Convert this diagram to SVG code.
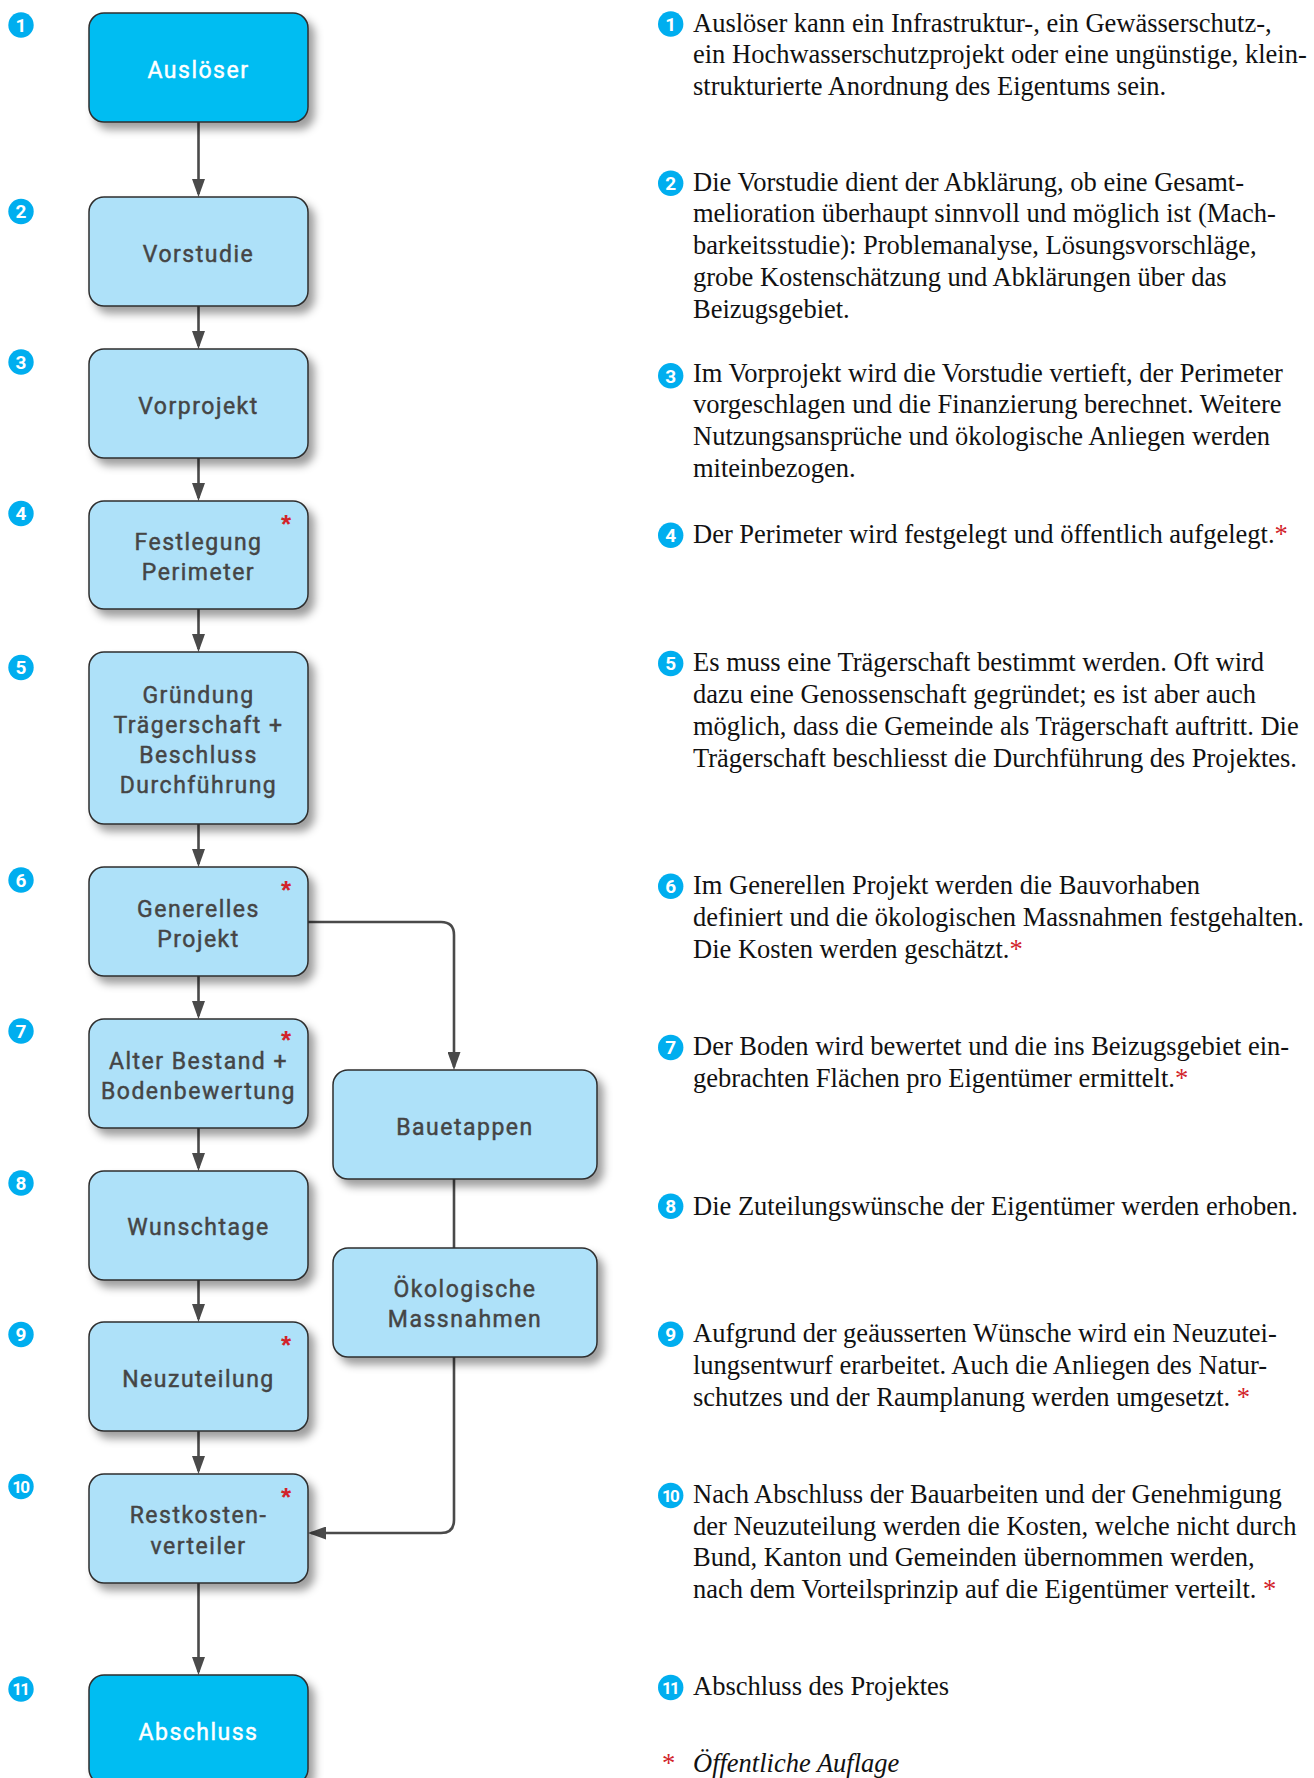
<svg xmlns="http://www.w3.org/2000/svg" width="1314" height="1778" viewBox="0 0 1314 1778">
<defs>
<filter id="sh" x="-20%" y="-20%" width="150%" height="160%">
<feDropShadow dx="6" dy="7" stdDeviation="4.5" flood-color="#000" flood-opacity="0.38"/>
</filter>
<marker id="arr" viewBox="0 0 18 13" refX="15" refY="6.5" markerWidth="18" markerHeight="13" markerUnits="userSpaceOnUse" orient="auto">
<path d="M0,0 L18,6.5 L0,13 Z" fill="#4a4a4a"/>
</marker>
</defs>
<style>
.box{fill:#aee1f9;stroke:#2e2e2e;stroke-width:1.5;filter:url(#sh)}
.dark{fill:#00bdf2}
.lbl{font-family:Roboto,"DejaVu Sans",sans-serif;font-weight:400;font-size:23px;letter-spacing:1.5px;fill:#454545;stroke:#454545;stroke-width:0.45px;text-anchor:middle}
.wl{fill:#ffffff;stroke:#ffffff}
.ast{font-family:"Liberation Sans",Arial,sans-serif;font-weight:bold;font-size:26px;fill:#d2232a;text-anchor:middle}
.num circle{fill:#00aeef}
.num text{font-family:Roboto,"DejaVu Sans",sans-serif;font-weight:bold;font-size:19px;fill:#fff;text-anchor:middle}
.num .dd{font-size:17px;letter-spacing:-1.8px}
.con{fill:none;stroke:#4a4a4a;stroke-width:2.6}
.txt{font-family:"Liberation Serif","Times New Roman",serif;font-size:26.5px;fill:#111111}
.red{fill:#d2232a}
</style>
<rect width="1314" height="1778" fill="#ffffff"/>

<g id="connectors">
<path class="con" d="M198.5,122 V194" marker-end="url(#arr)"/>
<path class="con" d="M198.5,306 V346" marker-end="url(#arr)"/>
<path class="con" d="M198.5,458 V498" marker-end="url(#arr)"/>
<path class="con" d="M198.5,609 V649" marker-end="url(#arr)"/>
<path class="con" d="M198.5,824 V864" marker-end="url(#arr)"/>
<path class="con" d="M198.5,976 V1016" marker-end="url(#arr)"/>
<path class="con" d="M198.5,1128 V1168" marker-end="url(#arr)"/>
<path class="con" d="M198.5,1280 V1319" marker-end="url(#arr)"/>
<path class="con" d="M198.5,1431 V1471" marker-end="url(#arr)"/>
<path class="con" d="M198.5,1583 V1672" marker-end="url(#arr)"/>
<path class="con" d="M308,922 H441 Q454,922 454,935 V1067" marker-end="url(#arr)"/>
<path class="con" d="M454,1179 V1248"/>
<path class="con" d="M454,1357 V1520 Q454,1533 441,1533 H311" marker-end="url(#arr)"/>
</g>

<g id="n1">
<rect class="box dark" x="89" y="13" width="219" height="109" rx="15"/>
<text class="lbl wl" x="198.5" y="78">Auslöser</text>
</g>
<g id="n2">
<rect class="box" x="89" y="197" width="219" height="109" rx="15"/>
<text class="lbl" x="198.5" y="261.5">Vorstudie</text>
</g>
<g id="n3">
<rect class="box" x="89" y="349" width="219" height="109" rx="15"/>
<text class="lbl" x="198.5" y="413.5">Vorprojekt</text>
</g>
<g id="n4">
<rect class="box" x="89" y="501" width="219" height="108" rx="15"/>
<text class="lbl" x="198.5" y="550">Festlegung</text>
<text class="lbl" x="198.5" y="579.5">Perimeter</text>
<text class="ast" x="286" y="533">*</text>
</g>
<g id="n5">
<rect class="box" x="89" y="652" width="219" height="172" rx="15"/>
<text class="lbl" x="198.5" y="703">Gründung</text>
<text class="lbl" x="198.5" y="733">Trägerschaft +</text>
<text class="lbl" x="198.5" y="763">Beschluss</text>
<text class="lbl" x="198.5" y="793">Durchführung</text>
</g>
<g id="n6">
<rect class="box" x="89" y="867" width="219" height="109" rx="15"/>
<text class="lbl" x="198.5" y="916.5">Generelles</text>
<text class="lbl" x="198.5" y="946.5">Projekt</text>
<text class="ast" x="286" y="899">*</text>
</g>
<g id="n7">
<rect class="box" x="89" y="1019" width="219" height="109" rx="15"/>
<text class="lbl" x="198.5" y="1068.5">Alter Bestand +</text>
<text class="lbl" x="198.5" y="1098.5">Bodenbewertung</text>
<text class="ast" x="286" y="1049">*</text>
</g>
<g id="n8">
<rect class="box" x="89" y="1171" width="219" height="109" rx="15"/>
<text class="lbl" x="198.5" y="1235">Wunschtage</text>
</g>
<g id="n9">
<rect class="box" x="89" y="1322" width="219" height="109" rx="15"/>
<text class="lbl" x="198.5" y="1387">Neuzuteilung</text>
<text class="ast" x="286" y="1354">*</text>
</g>
<g id="n10">
<rect class="box" x="89" y="1474" width="219" height="109" rx="15"/>
<text class="lbl" x="198.5" y="1523">Restkosten-</text>
<text class="lbl" x="198.5" y="1553.5">verteiler</text>
<text class="ast" x="286" y="1506">*</text>
</g>
<g id="n11">
<rect class="box dark" x="89" y="1675" width="219" height="109" rx="15"/>
<text class="lbl wl" x="198.5" y="1740">Abschluss</text>
</g>
<g id="n12">
<rect class="box" x="333" y="1070" width="264" height="109" rx="15"/>
<text class="lbl" x="465" y="1134.5">Bauetappen</text>
</g>
<g id="n13">
<rect class="box" x="333" y="1248" width="264" height="109" rx="15"/>
<text class="lbl" x="465" y="1297">Ökologische</text>
<text class="lbl" x="465" y="1327">Massnahmen</text>
</g>

<g id="numbers-left" class="num">
<circle cx="21" cy="25" r="12.7"/><text x="21" y="31.8">1</text>
<circle cx="21" cy="211.5" r="12.7"/><text x="21" y="218.3">2</text>
<circle cx="21" cy="362" r="12.7"/><text x="21" y="368.8">3</text>
<circle cx="21" cy="513.5" r="12.7"/><text x="21" y="520.3">4</text>
<circle cx="21" cy="667.5" r="12.7"/><text x="21" y="674.3">5</text>
<circle cx="21" cy="880" r="12.7"/><text x="21" y="886.8">6</text>
<circle cx="21" cy="1031" r="12.7"/><text x="21" y="1037.8">7</text>
<circle cx="21" cy="1183" r="12.7"/><text x="21" y="1189.8">8</text>
<circle cx="21" cy="1334.5" r="12.7"/><text x="21" y="1341.3">9</text>
<circle cx="21" cy="1486.5" r="12.7"/><text class="dd" x="20.3" y="1492.6">10</text>
<circle cx="21" cy="1689" r="12.7"/><text class="dd" x="20.3" y="1695.1">11</text>
</g>

<g id="numbers-right" class="num">
<circle cx="670.7" cy="24" r="12.7"/><text x="670.7" y="30.8">1</text>
<circle cx="670.7" cy="183.3" r="12.7"/><text x="670.7" y="190.1">2</text>
<circle cx="670.7" cy="375.7" r="12.7"/><text x="670.7" y="382.5">3</text>
<circle cx="670.7" cy="535.3" r="12.7"/><text x="670.7" y="542.1">4</text>
<circle cx="670.7" cy="663.5" r="12.7"/><text x="670.7" y="670.3">5</text>
<circle cx="670.7" cy="886.3" r="12.7"/><text x="670.7" y="893.1">6</text>
<circle cx="670.7" cy="1047.5" r="12.7"/><text x="670.7" y="1054.3">7</text>
<circle cx="670.7" cy="1206.3" r="12.7"/><text x="670.7" y="1213.1">8</text>
<circle cx="670.7" cy="1334.3" r="12.7"/><text x="670.7" y="1341.1">9</text>
<circle cx="670.7" cy="1495.5" r="12.7"/><text class="dd" x="670" y="1501.6">10</text>
<circle cx="670.7" cy="1687.5" r="12.7"/><text class="dd" x="670" y="1693.6">11</text>
</g>

<g id="descriptions" class="txt">
<text x="693" y="31.7">Auslöser kann ein Infrastruktur-, ein Gewässerschutz-,</text>
<text x="693" y="63.3">ein Hochwasserschutzprojekt oder eine ungünstige, klein-</text>
<text x="693" y="95">strukturierte Anordnung des Eigentums sein.</text>

<text x="693" y="190.7">Die Vorstudie dient der Abklärung, ob eine Gesamt-</text>
<text x="693" y="222.3">melioration überhaupt sinnvoll und möglich ist (Mach-</text>
<text x="693" y="254">barkeitsstudie): Problemanalyse, Lösungsvorschläge,</text>
<text x="693" y="285.7">grobe Kostenschätzung und Abklärungen über das</text>
<text x="693" y="317.5">Beizugsgebiet.</text>

<text x="693" y="381.7">Im Vorprojekt wird die Vorstudie vertieft, der Perimeter</text>
<text x="693" y="413.3">vorgeschlagen und die Finanzierung berechnet. Weitere</text>
<text x="693" y="445">Nutzungsansprüche und ökologische Anliegen werden</text>
<text x="693" y="476.7">miteinbezogen.</text>

<text x="693" y="542.7">Der Perimeter wird festgelegt und öffentlich aufgelegt.<tspan class="red">*</tspan></text>

<text x="693" y="671">Es muss eine Trägerschaft bestimmt werden. Oft wird</text>
<text x="693" y="702.8">dazu eine Genossenschaft gegründet; es ist aber auch</text>
<text x="693" y="734.7">möglich, dass die Gemeinde als Trägerschaft auftritt. Die</text>
<text x="693" y="766.5">Trägerschaft beschliesst die Durchführung des Projektes.</text>

<text x="693" y="894.3">Im Generellen Projekt werden die Bauvorhaben</text>
<text x="693" y="926">definiert und die ökologischen Massnahmen festgehalten.</text>
<text x="693" y="958">Die Kosten werden geschätzt.<tspan class="red">*</tspan></text>

<text x="693" y="1055">Der Boden wird bewertet und die ins Beizugsgebiet ein-</text>
<text x="693" y="1086.7">gebrachten Flächen pro Eigentümer ermittelt.<tspan class="red">*</tspan></text>

<text x="693" y="1214.7">Die Zuteilungswünsche der Eigentümer werden erhoben.</text>

<text x="693" y="1342.3">Aufgrund der geäusserten Wünsche wird ein Neuzutei-</text>
<text x="693" y="1374">lungsentwurf erarbeitet. Auch die Anliegen des Natur-</text>
<text x="693" y="1405.7">schutzes und der Raumplanung werden umgesetzt. <tspan class="red">*</tspan></text>

<text x="693" y="1503">Nach Abschluss der Bauarbeiten und der Genehmigung</text>
<text x="693" y="1534.7">der Neuzuteilung werden die Kosten, welche nicht durch</text>
<text x="693" y="1566.3">Bund, Kanton und Gemeinden übernommen werden,</text>
<text x="693" y="1598">nach dem Vorteilsprinzip auf die Eigentümer verteilt. <tspan class="red">*</tspan></text>

<text x="693" y="1695">Abschluss des Projektes</text>

<text x="662" y="1772" class="red">*</text>
<text x="693" y="1772" font-style="italic">Öffentliche Auflage</text>
</g>
</svg>
